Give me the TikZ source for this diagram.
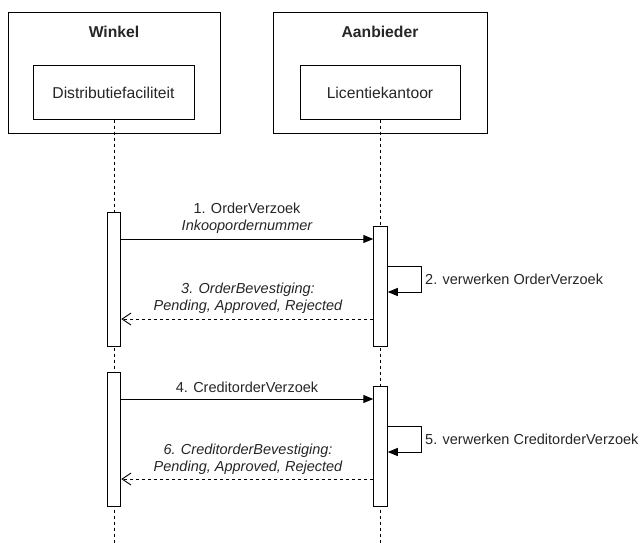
\documentclass[tikz,border=0pt]{standalone}
\usepackage{fontspec}
\setmainfont{Liberation Sans}
\usetikzlibrary{arrows.meta}
\begin{document}
\begin{tikzpicture}[x=1pt,y=-1pt,
  lbl/.style={font=\fontsize{14.5}{17}\selectfont, text=black!85, inner sep=0pt, align=center},
  outerbox/.style={draw, line width=1pt, minimum height=120pt, inner sep=0pt},
  innerbox/.style={draw, line width=1pt, minimum height=53pt, inner sep=0pt, font=\fontsize{15.7}{18}\selectfont, text=black!85},
  lifeline/.style={line width=0.9pt, dash pattern=on 3pt off 3pt},
  actbar/.style={draw, fill=white, line width=1pt, minimum width=13.5pt, inner sep=0pt, anchor=north},
  msg/.style={line width=1pt, -{Triangle[length=10pt,width=8pt]}},
  ret/.style={line width=0.9pt, dash pattern=on 3pt off 3pt, -{Straight Barb[length=9pt,width=12pt,line width=0.9pt]}}
]
\useasboundingbox (0,0) rectangle (640,543);
% participants
\node[outerbox, minimum width=212pt] (winkel) at (114,73) {};
\node[outerbox, minimum width=214pt] (aanb) at (380,73) {};
\node[lbl, font=\fontsize{15.7}{18}\selectfont\bfseries] (winkelt) at (114,32) {Winkel};
\node[lbl, font=\fontsize{15.7}{18}\selectfont\bfseries] (aanbt) at (380,32) {Aanbieder};
\node[innerbox, minimum width=161pt] (dist) at (113.5,92.5) {Distributiefaciliteit};
\node[innerbox, minimum width=160pt] (lic) at (380,92.5) {Licentiekantoor};
% lifelines
\coordinate (wend) at (114,543);
\coordinate (aend) at (380,543);
\draw[lifeline] (dist.south -| wend) -- (wend);
\draw[lifeline] (lic.south -| aend) -- (aend);
% activation bars
\node[actbar, minimum height=134pt] (wb1) at (114,212) {};
\node[actbar, minimum height=120pt] (ab1) at (380.5,226) {};
\node[actbar, minimum height=134pt] (wb2) at (114,372) {};
\node[actbar, minimum height=120pt] (ab2) at (380.5,386) {};
% messages, round 1
\coordinate (y1) at (0,239);
\coordinate (y3) at (0,319);
\draw[msg] (wb1.east |- y1) -- (ab1.west |- y1);
\node[lbl] (l1) at (247,218.5) {1. OrderVerzoek\\\itshape Inkoopordernummer};
\coordinate (s2a) at (421,266);
\coordinate (s2b) at (421,292);
\draw[msg] (ab1.east |- s2a) -- (s2a) -- (s2b) -- (ab1.east |- s2b);
\node[lbl, anchor=west] (l2) at (425,279) {2. verwerken OrderVerzoek};
\draw[ret] (ab1.west |- y3) -- (wb1.east |- y3);
\node[lbl, font=\fontsize{14.5}{17}\selectfont\itshape] (l3) at (248,298.5) {3. OrderBevestiging:\\Pending, Approved, Rejected};
% messages, round 2
\coordinate (y4) at (0,399);
\coordinate (y6) at (0,479);
\draw[msg] (wb2.east |- y4) -- (ab2.west |- y4);
\node[lbl] (l4) at (247,387) {4. CreditorderVerzoek};
\coordinate (s5a) at (421,426);
\coordinate (s5b) at (421,452);
\draw[msg] (ab2.east |- s5a) -- (s5a) -- (s5b) -- (ab2.east |- s5b);
\node[lbl, anchor=west] (l5) at (425,439) {5. verwerken CreditorderVerzoek};
\draw[ret] (ab2.west |- y6) -- (wb2.east |- y6);
\node[lbl, font=\fontsize{14.5}{17}\selectfont\itshape] (l6) at (248,459) {6. CreditorderBevestiging:\\Pending, Approved, Rejected};
\end{tikzpicture}
\end{document}
